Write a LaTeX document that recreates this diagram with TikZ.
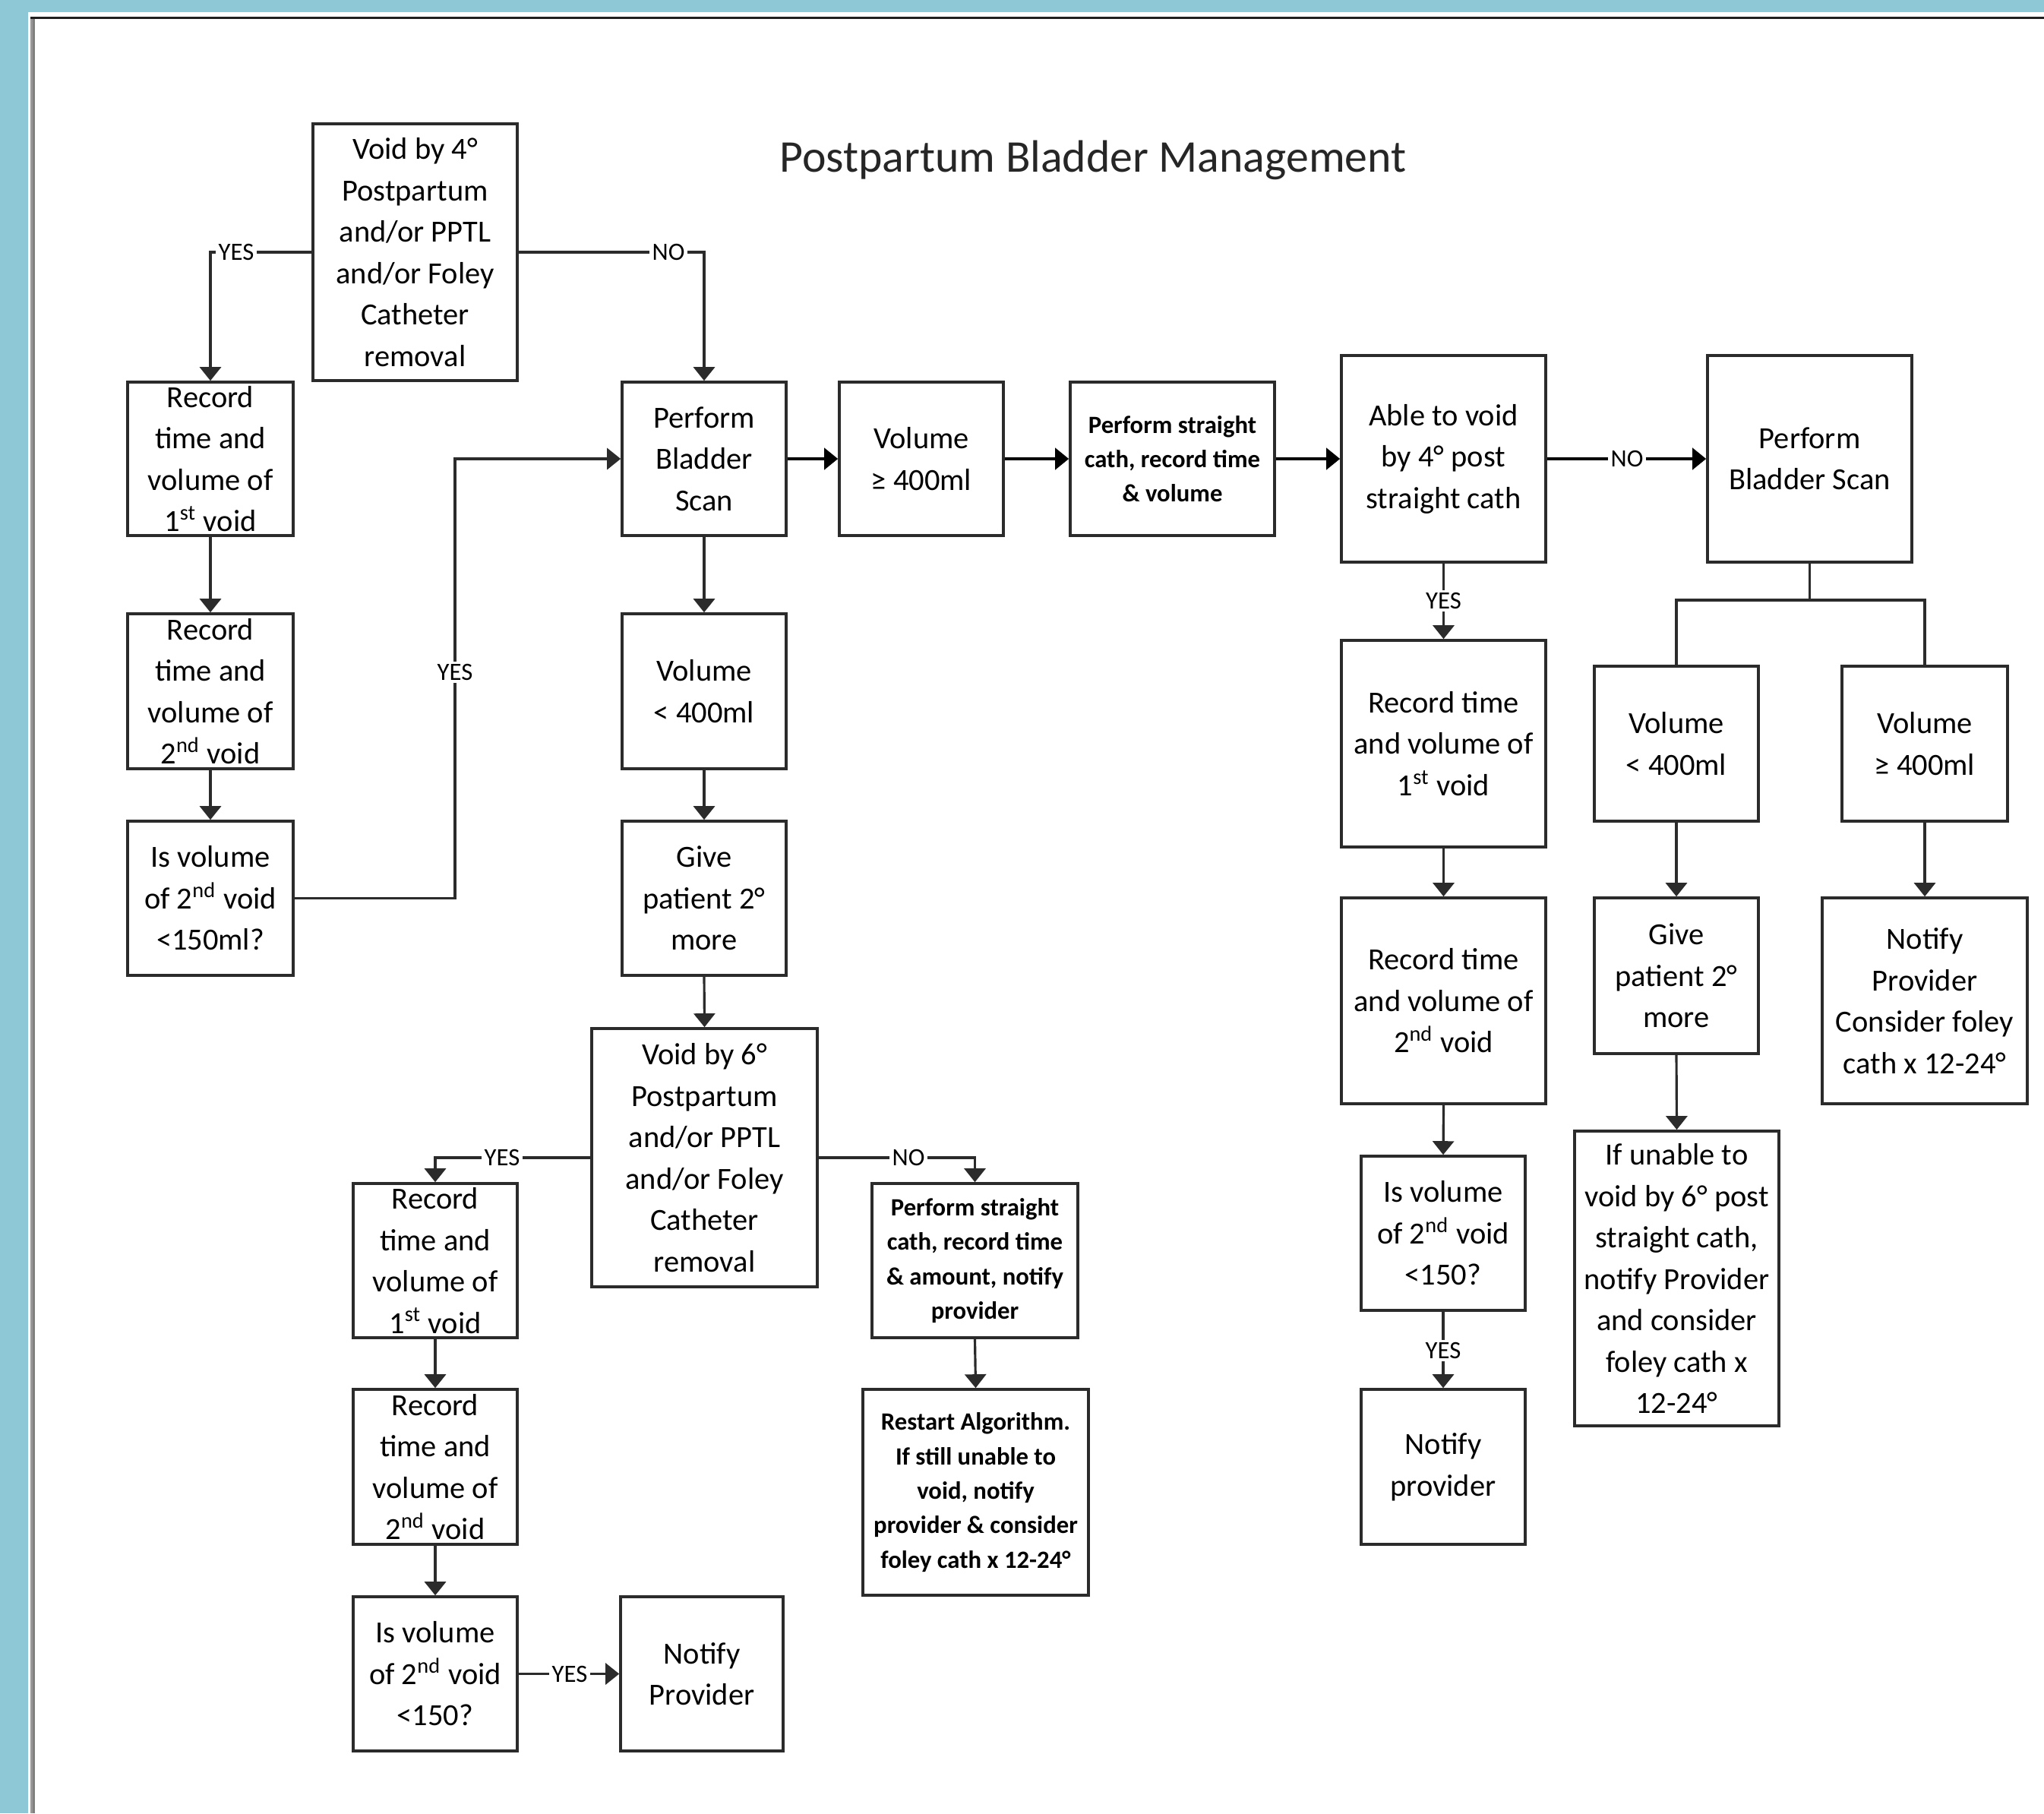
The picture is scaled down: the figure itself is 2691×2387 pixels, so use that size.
\documentclass[tikz,border=0pt]{standalone}
\usepackage{fontspec}
\setmainfont{Carlito}
\usetikzlibrary{arrows.meta}
\definecolor{bgblue}{HTML}{8EC7D6}
\definecolor{boxline}{HTML}{2B2B2B}
\newcommand{\boxfont}{\fontsize{11.5}{15.5}\selectfont}
\newcommand{\smallboxfont}{\fontsize{9.3}{12.9}\selectfont\bfseries}
\newcommand{\lblfont}{\fontsize{9.3}{11}\selectfont}
\newcommand{\titlefont}{\fontsize{17}{20}\selectfont}
\begin{document}
\begin{tikzpicture}[x=0.01cm, y=-0.01cm,
  box/.style={draw=boxline, line width=1pt, align=center, inner sep=0pt, font=\boxfont, text=black},
  sbox/.style={box, font=\smallboxfont},
  conn/.style={draw=boxline, line width=0.9pt},
  arr/.style={conn, -{Triangle[width=0.28cm,length=0.18cm]}},
  thickarr/.style={arr, draw=black, line width=1.2pt},
  lbl/.style={fill=white, inner sep=1pt, font=\lblfont, text=black}]
\useasboundingbox (0,0) rectangle (2691,2387);
% frame
\fill[bgblue] (0,0) rectangle (2691,2387);
\fill[white] (37,16) rectangle (2691,2387);
\fill[black!40] (40,22) rectangle (43,2387);
\fill[black!50] (43,22) rectangle (46,2387);
\fill[black!88] (40,22) rectangle (2691,25);
% title
\node[font=\titlefont, text=black!85] (title) at (1439,211) {Postpartum Bladder Management};
% boxes
\node[box, minimum width=2.69cm, minimum height=3.38cm] (A) at (546.5,332) {Void by 4°\\Postpartum\\and/or PPTL\\and/or Foley\\Catheter\\removal};
\node[box, minimum width=2.18cm, minimum height=2.02cm] (B) at (277,604) {Record\\time and\\volume of\\1\textsuperscript{st} void};
\node[box, minimum width=2.18cm, minimum height=2.04cm] (C) at (277,910) {Record\\time and\\volume of\\2\textsuperscript{nd} void};
\node[box, minimum width=2.18cm, minimum height=2.03cm] (D) at (277,1182.5) {Is volume\\of 2\textsuperscript{nd} void\\<150ml?};
\node[box, minimum width=2.16cm, minimum height=2.02cm] (E) at (927,604) {Perform\\Bladder\\Scan};
\node[box, minimum width=2.16cm, minimum height=2.02cm] (F) at (1213,604) {Volume\\≥ 400ml};
\node[sbox, minimum width=2.69cm, minimum height=2.02cm] (G) at (1543.5,604) {Perform straight\\cath, record time\\\& volume};
\node[box, minimum width=2.69cm, minimum height=2.72cm] (H) at (1900.5,604) {Able to void\\by 4° post\\straight cath};
\node[box, minimum width=2.69cm, minimum height=2.72cm] (I) at (2382.5,604) {Perform\\Bladder Scan};
\node[box, minimum width=2.16cm, minimum height=2.04cm] (J) at (927,910) {Volume\\< 400ml};
\node[box, minimum width=2.16cm, minimum height=2.03cm] (K) at (927,1182.5) {Give\\patient 2°\\more};
\node[box, minimum width=2.97cm, minimum height=3.40cm] (L) at (927.5,1524) {Void by 6°\\Postpartum\\and/or PPTL\\and/or Foley\\Catheter\\removal};
\node[box, minimum width=2.16cm, minimum height=2.03cm] (M) at (573,1659.5) {Record\\time and\\volume of\\1\textsuperscript{st} void};
\node[box, minimum width=2.16cm, minimum height=2.04cm] (N) at (573,1931) {Record\\time and\\volume of\\2\textsuperscript{nd} void};
\node[box, minimum width=2.16cm, minimum height=2.03cm] (O) at (573,2203.5) {Is volume\\of 2\textsuperscript{nd} void\\<150?};
\node[box, minimum width=2.14cm, minimum height=2.03cm] (P) at (924,2203.5) {Notify\\Provider};
\node[sbox, minimum width=2.71cm, minimum height=2.03cm] (Q) at (1283.5,1659.5) {Perform straight\\cath, record time\\\& amount, notify\\provider};
\node[sbox, minimum width=2.97cm, minimum height=2.71cm] (R) at (1284.5,1964.5) {Restart Algorithm.\\If still unable to\\void, notify\\provider \& consider\\foley cath x 12-24°};
\node[box, minimum width=2.69cm, minimum height=2.72cm] (S) at (1900.5,979) {Record time\\and volume of\\1\textsuperscript{st} void};
\node[box, minimum width=2.69cm, minimum height=2.71cm] (T) at (1900.5,1317.5) {Record time\\and volume of\\2\textsuperscript{nd} void};
\node[box, minimum width=2.16cm, minimum height=2.03cm] (U) at (1900,1623.5) {Is volume\\of 2\textsuperscript{nd} void\\<150?};
\node[box, minimum width=2.16cm, minimum height=2.04cm] (V) at (1900,1931) {Notify\\provider};
\node[box, minimum width=2.16cm, minimum height=2.04cm] (W) at (2207,979) {Volume\\< 400ml};
\node[box, minimum width=2.18cm, minimum height=2.04cm] (X) at (2534,979) {Volume\\≥ 400ml};
\node[box, minimum width=2.16cm, minimum height=2.05cm] (Y) at (2207,1284.5) {Give\\patient 2°\\more};
\node[box, minimum width=2.69cm, minimum height=3.88cm] (Z) at (2207.5,1683) {If unable to\\void by 6° post\\straight cath,\\notify Provider\\and consider\\foley cath x\\12-24°};
\node[box, minimum width=2.70cm, minimum height=2.71cm] (AA) at (2534,1317.5) {Notify\\Provider\\Consider foley\\cath x 12-24°};
% connectors
\coordinate (dturn) at (599,1182.5);
\coordinate (ibr) at (2382.5,790);
\draw[arr] (A.west) -| (B.north);
\draw[arr] (A.east) -| (E.north);
\draw[arr] (B.south) -- (C.north);
\draw[arr] (C.south) -- (D.north);
\draw[arr] (D.east) -- (dturn) |- (E.west);
\draw[thickarr] (E.east) -- (F.west);
\draw[thickarr] (F.east) -- (G.west);
\draw[thickarr] (G.east) -- (H.west);
\draw[thickarr] (H.east) -- (I.west);
\draw[arr] (H.south) -- (S.north);
\draw[conn] (I.south) -- (ibr);
\draw[conn] (W.north) |- (ibr) -| (X.north);
\draw[arr] (E.south) -- (J.north);
\draw[arr] (J.south) -- (K.north);
\draw[arr] (K.south) -- (L.north);
\draw[arr] (L.west) -| (M.north);
\draw[arr] (L.east) -| (Q.north);
\draw[arr] (M.south) -- (N.north);
\draw[arr] (N.south) -- (O.north);
\draw[arr] (O.east) -- (P.west);
\draw[arr] (Q.south) -- (R.north);
\draw[arr] (S.south) -- (T.north);
\draw[arr] (T.south) -- (U.north);
\draw[arr] (U.south) -- (V.north);
\draw[arr] (W.south) -- (Y.north);
\draw[arr] (Y.south) -- (Z.north);
\draw[arr] (X.south) -- (AA.north);
% labels
\node[lbl] (l1) at (311,332) {YES};
\node[lbl] (l2) at (880,332) {NO};
\node[lbl] (l3) at (599,885) {YES};
\node[lbl] (l4) at (2142,604) {NO};
\node[lbl] (l5) at (1900.5,791) {YES};
\node[lbl] (l6) at (661,1524) {YES};
\node[lbl] (l7) at (1196,1524) {NO};
\node[lbl] (l8) at (750,2203.5) {YES};
\node[lbl] (l9) at (1900,1778) {YES};
\end{tikzpicture}
\end{document}
